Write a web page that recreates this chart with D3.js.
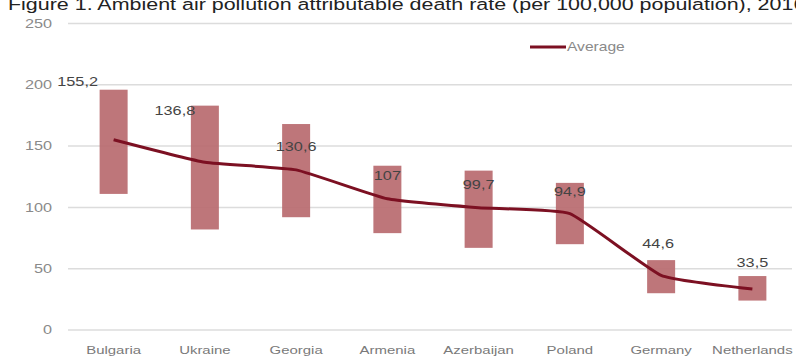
<!DOCTYPE html>
<html>
<head>
<meta charset="utf-8">
<script src="https://cdn.jsdelivr.net/npm/d3@7"></script>
<style>
  html, body { margin: 0; padding: 0; background: #fff; }
  svg { display: block; font-family: "Liberation Sans", Arial, sans-serif; }
</style>
</head>
<body>
<div id="chart"></div>
<script>
const countries = ["Bulgaria", "Ukraine", "Georgia", "Armenia", "Azerbaijan", "Poland", "Germany", "Netherlands"];
const average = [155.2, 136.8, 130.6, 107, 99.7, 94.9, 44.6, 33.5];
const averageLabels = ["155,2", "136,8", "130,6", "107", "99,7", "94,9", "44,6", "33,5"];
const rangeLow = [111, 82, 92, 79, 67, 70, 30, 24];
const rangeHigh = [196, 183, 168, 134, 130, 120, 57, 44];
const yTicks = [0, 50, 100, 150, 200, 250];

// label nudges (px) relative to the average point
const labelDx = [-36, -30, 0, 0, 0, 0, -3, 0];
const labelDy = [-58, -52, -23, -23, -23, -22, -32, -26];

const width = 796;
const height = 358;
const stretch = 1.3; // source image text is horizontally stretched

const svg = d3.select("#chart")
  .append("svg")
  .attr("width", width)
  .attr("height", height);

const x = d3.scaleBand()
  .domain(countries)
  .range([68, 798]);

const y = d3.scaleLinear()
  .domain([0, 250])
  .range([330, 23.5]);

const at = (px, py) => `translate(${px},${py}) scale(${stretch},1)`;

// title, clipped at the top like the source image
svg.append("text")
  .attr("transform", at(8, 9.5))
  .attr("font-size", 16.5)
  .attr("fill", "#222")
  .text("Figure 1. Ambient air pollution attributable death rate (per 100,000 population), 2016");

// gridlines + y labels
svg.append("g")
  .selectAll("line")
  .data(yTicks)
  .join("line")
  .attr("x1", 68)
  .attr("x2", 792)
  .attr("y1", d => y(d))
  .attr("y2", d => y(d))
  .attr("stroke", "#dcdcdc")
  .attr("stroke-width", 1.5);

svg.append("g")
  .selectAll("text")
  .data(yTicks)
  .join("text")
  .attr("transform", d => at(52, y(d)))
  .attr("dy", "0.35em")
  .attr("text-anchor", "end")
  .attr("font-size", 12.5)
  .attr("fill", "#8a8a8a")
  .text(d => d);

// x labels
svg.append("g")
  .selectAll("text")
  .data(countries)
  .join("text")
  .attr("transform", d => at(x(d) + x.bandwidth() / 2, 350))
  .attr("dy", "0.35em")
  .attr("text-anchor", "middle")
  .attr("font-size", 11.5)
  .attr("fill", "#7a7a7a")
  .text(d => d);

// range bars
const barW = 28;
svg.append("g")
  .selectAll("rect")
  .data(countries)
  .join("rect")
  .attr("x", d => x(d) + x.bandwidth() / 2 - barW / 2)
  .attr("y", (d, i) => y(rangeHigh[i]))
  .attr("width", barW)
  .attr("height", (d, i) => y(rangeLow[i]) - y(rangeHigh[i]))
  .attr("fill", "#b96a6f")
  .attr("opacity", 0.92);

// average line
const line = d3.line()
  .x((d, i) => x(countries[i]) + x.bandwidth() / 2)
  .y(d => y(d))
  .curve(d3.curveCardinal.tension(0.6));

svg.append("path")
  .datum(average)
  .attr("d", line)
  .attr("fill", "none")
  .attr("stroke", "#7c1022")
  .attr("stroke-width", 3);

// value labels
svg.append("g")
  .selectAll("text")
  .data(average)
  .join("text")
  .attr("transform", (d, i) => at(x(countries[i]) + x.bandwidth() / 2 + labelDx[i], y(d) + labelDy[i]))
  .attr("dy", "0.35em")
  .attr("text-anchor", "middle")
  .attr("font-size", 12.5)
  .attr("fill", "#444")
  .text((d, i) => averageLabels[i]);

// legend
const legend = svg.append("g").attr("transform", "translate(530,47)");
legend.append("line")
  .attr("x1", 0).attr("x2", 36)
  .attr("stroke", "#7c1022")
  .attr("stroke-width", 3);
legend.append("text")
  .attr("transform", at(37, 0))
  .attr("dy", "0.35em")
  .attr("font-size", 12)
  .attr("fill", "#8a8a8a")
  .text("Average");
</script>
</body>
</html>
